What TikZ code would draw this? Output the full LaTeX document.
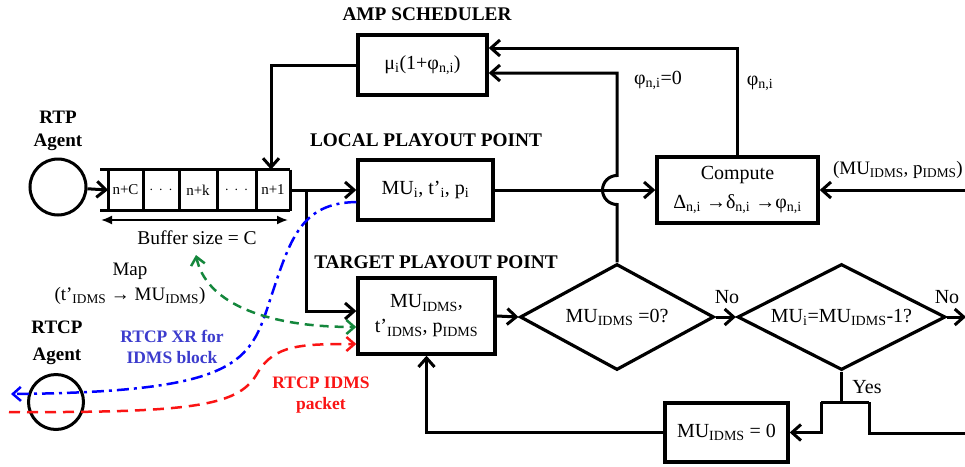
\documentclass[tikz,border=0pt]{standalone}
\usepackage{fontspec}
\setmainfont{Liberation Serif}
\usetikzlibrary{arrows.meta,shapes.geometric,calc}
\newcommand{\sbs}[1]{\textsubscript{#1}}
\definecolor{xrblue}{RGB}{60,60,205}
\definecolor{idgreen}{RGB}{20,135,60}
\definecolor{idred}{RGB}{250,20,20}
\definecolor{dblue}{RGB}{0,0,255}
\begin{document}
\begin{tikzpicture}[x=1pt,y=-1pt,
  fn/.style={font=\fontsize{20}{24}\selectfont},
  lbl/.style={font=\fontsize{19.3}{23}\selectfont\bfseries, align=center, inner sep=0pt},
  txt/.style={fn, align=center, inner sep=0pt},
  blk/.style={draw, line width=3.4pt, inner sep=0pt, fn, align=center},
  dia/.style={diamond, shape aspect=2, draw, line width=3.2pt, inner sep=0pt, fn},
  ln/.style={line width=3pt},
  arr/.style={ln, -{Straight Barb[length=9pt,width=16pt]}},
  dtip/.style={-{Straight Barb[length=8pt,width=14pt]}},
  dtiptwo/.style={{Straight Barb[length=8pt,width=14pt]}-{Straight Barb[length=8pt,width=14pt]}},
  cellt/.style={font=\fontsize{15}{17}\selectfont, inner sep=0pt}
]
\useasboundingbox (0,0) rectangle (965,466);

% ---- nodes ----
\node[blk, minimum width=129pt, minimum height=60pt] (amp) at (422.5,65) {μ\sbs{i}(1+φ\sbs{n,i})};
\node[blk, minimum width=135pt, minimum height=60pt] (local) at (425.5,190) {MU\sbs{i}, t’\sbs{i}, p\sbs{i}};
\node[blk, minimum width=137pt, minimum height=76pt] (target) at (426.5,316) {MU\sbs{IDMS},\\[1pt] t’\sbs{IDMS}, p\sbs{IDMS}};
\node[blk, minimum width=161pt, minimum height=66pt] (compute) at (737.5,190) {Compute\\[5pt] Δ\sbs{n,i} →δ\sbs{n,i} →φ\sbs{n,i}};
\node[dia, minimum width=194pt, minimum height=106pt] (d1) at (617,317) {MU\sbs{IDMS} =0?};
\node[dia, minimum width=208pt, minimum height=106pt] (d2) at (841.5,317) {MU\sbs{i}=MU\sbs{IDMS}-1?};
\node[blk, minimum width=123pt, minimum height=59pt] (mu0) at (726.5,432.5) {MU\sbs{IDMS} = 0};

\node[circle, draw, line width=3pt, minimum size=56pt, inner sep=0pt] (rtp) at (58,187) {};
\node[circle, draw, line width=3pt, minimum size=55pt, inner sep=0pt] (rtcp) at (56,402) {};

% ---- labels ----
\node[lbl] (lamp) at (427,14) {AMP SCHEDULER};
\node[lbl] (lloc) at (426,140) {LOCAL PLAYOUT POINT};
\node[lbl] (ltgt) at (436,262) {TARGET PLAYOUT POINT};
\node[lbl, font=\fontsize{19}{23}\selectfont\bfseries] (lrtp) at (58,131) {RTP\\Agent};
\node[lbl, font=\fontsize{19}{27}\selectfont\bfseries] (lrtcp) at (57,343) {RTCP\\Agent};
\node[lbl, text=xrblue, font=\fontsize{17.5}{21}\selectfont\bfseries] (lxr) at (172,347) {RTCP XR for\\IDMS block};
\node[lbl, text=idred, font=\fontsize{17.5}{21}\selectfont\bfseries] (lid) at (321,395) {RTCP IDMS\\packet};
\node[txt, font=\fontsize{19}{25}\selectfont] (lmap) at (130,284) {Map\\(t’\sbs{IDMS} → MU\sbs{IDMS})};
\node[txt, font=\fontsize{19.5}{23}\selectfont] (lbuf) at (197,238) {Buffer size = C};
\node[txt] (lphi0) at (658,80) {φ\sbs{n,i}=0};
\node[txt] (lphi) at (760,83) {φ\sbs{n,i}};
\node[txt, font=\fontsize{19}{23}\selectfont, anchor=east] (lmup) at (963,170) {(MU\sbs{IDMS}, p\sbs{IDMS})};
\node[txt] (lno1) at (727,297) {No};
\node[txt] (lno2) at (947,297) {No};
\node[txt] (lyes) at (867,387) {Yes};

% ---- buffer ----
\draw[ln] (100,169.5) -- (290,169.5) (100,210.5) -- (290,210.5);
\foreach \x in {108,143,179,217,256,290} \draw[ln] (\x,169.5) -- (\x,210.5);
\node[cellt] (c1) at (125.5,190) {n+C};
\node[cellt] (c2) at (161,190) {$\cdot\,\cdot\,\cdot$};
\node[cellt] (c3) at (198,190) {n+k};
\node[cellt] (c4) at (236.5,190) {$\cdot\,\cdot\,\cdot$};
\node[cellt] (c5) at (273,190) {n+1};
\coordinate (bufL) at (108,190);
\coordinate (bufR) at (290,190);
\coordinate (bufT) at (271,169.5);
\coordinate (jn) at (306,190);
\coordinate (bsL) at (101,220);
\coordinate (bsR) at (288,220);
\draw[line width=1.8pt, {Latex[length=11pt,width=9pt]}-{Latex[length=11pt,width=9pt]}] (bsL) -- (bsR);

% ---- edge coordinates ----
\coordinate (inR) at (966,190);
\coordinate (outR) at (966,317);
\coordinate (loopR) at (966,433);
\coordinate (blueE) at (11,394);
\coordinate (redS) at (9,412);
\coordinate (hop) at (d1.north |- local.east);

% ---- connectors ----
\draw[arr] (rtp) -- (bufL);
\draw[arr] (amp.west) -| (bufT);
\draw[arr] (bufR) -- (local.west);
\draw[arr] (jn) |- ([yshift=5pt]target.west);
\draw[arr] (local.east) -- (compute.west);
\draw[arr] (inR) -- (compute.east);
\draw[arr] (compute.north) |- ([yshift=17pt]amp.east);
\draw[arr] (d1.north) -- ([yshift=-14.5pt]hop) arc[start angle=270, end angle=90, radius=14.5pt] |- ([yshift=-8pt]amp.east);
\draw[arr] (target.east) -- (d1.west);
\draw[arr] (d1.east) -- (d2.west);
\draw[arr] (d2.east) -- (outR);
\coordinate (bl) at (821,402);
\coordinate (br) at (869,402);
\draw[ln] (d2.south) -- (d2.south |- bl);
\draw[ln] (bl) -- (br);
\draw[arr] (bl) |- (mu0.east);
\draw[ln] (br) |- (loopR);
\draw[arr] (mu0.west) -| (target.south);

% ---- dashed signalling ----
\draw[line width=2.5pt, dblue, dash pattern=on 12pt off 5pt on 3pt off 5pt, dtip]
  ([yshift=-12pt]local.west) .. controls (300,203) and (290,240) .. (270,300)
  .. controls (250,362) and (240,392) .. (blueE);
\draw[line width=2.5pt, idred, dash pattern=on 11pt off 7pt, dtip]
  (redS) .. controls (200,413) and (240,405) .. (258,372)
  .. controls (275,345) and (300,344) .. ([yshift=-28pt]target.west);
\draw[line width=2.5pt, idgreen, dash pattern=on 9pt off 6pt, dtiptwo]
  (196,255) .. controls (205,300) and (260,327) .. ([yshift=-11pt]target.west);
\end{tikzpicture}
\end{document}
